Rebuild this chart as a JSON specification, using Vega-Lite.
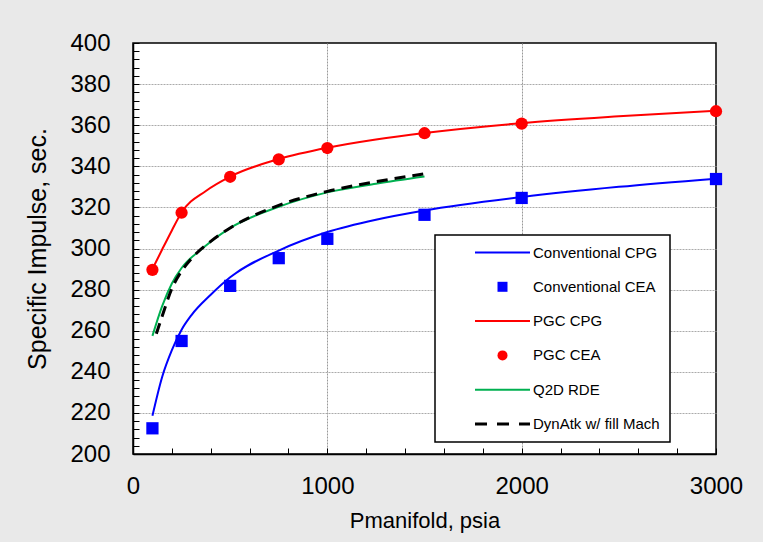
{
  "$schema": "https://vega.github.io/schema/vega-lite/v6.json",
  "width": 583,
  "height": 411,
  "autosize": {"type": "none"},
  "padding": {"left": 133, "top": 43, "right": 47, "bottom": 88},
  "background": "#e9e9e9",
  "config": {
    "font": "Liberation Sans",
    "view": {"fill": "white", "stroke": "black", "strokeWidth": 1.5}
  },
  "data": {
    "values": [
      {"series": "Conventional CPG", "p": 100, "isp": 218.6},
      {"series": "Conventional CPG", "p": 150, "isp": 237.5},
      {"series": "Conventional CPG", "p": 200, "isp": 250.5},
      {"series": "Conventional CPG", "p": 250, "isp": 260.5},
      {"series": "Conventional CPG", "p": 300, "isp": 267.5},
      {"series": "Conventional CPG", "p": 400, "isp": 277.5},
      {"series": "Conventional CPG", "p": 500, "isp": 286},
      {"series": "Conventional CPG", "p": 750, "isp": 299},
      {"series": "Conventional CPG", "p": 1000, "isp": 308},
      {"series": "Conventional CPG", "p": 1250, "isp": 314},
      {"series": "Conventional CPG", "p": 1500, "isp": 318.5},
      {"series": "Conventional CPG", "p": 2000, "isp": 325},
      {"series": "Conventional CPG", "p": 2500, "isp": 330},
      {"series": "Conventional CPG", "p": 3000, "isp": 334},
      {"series": "Conventional CEA", "p": 100, "isp": 212.5},
      {"series": "Conventional CEA", "p": 250, "isp": 255},
      {"series": "Conventional CEA", "p": 500, "isp": 281.8},
      {"series": "Conventional CEA", "p": 750, "isp": 295.3},
      {"series": "Conventional CEA", "p": 1000, "isp": 304.7},
      {"series": "Conventional CEA", "p": 1500, "isp": 316.4},
      {"series": "Conventional CEA", "p": 2000, "isp": 324.6},
      {"series": "Conventional CEA", "p": 3000, "isp": 333.8},
      {"series": "PGC CPG", "p": 100, "isp": 290},
      {"series": "PGC CPG", "p": 150, "isp": 299.5},
      {"series": "PGC CPG", "p": 200, "isp": 308.8},
      {"series": "PGC CPG", "p": 250, "isp": 317.5},
      {"series": "PGC CPG", "p": 375, "isp": 328},
      {"series": "PGC CPG", "p": 500, "isp": 335},
      {"series": "PGC CPG", "p": 750, "isp": 343.5},
      {"series": "PGC CPG", "p": 1000, "isp": 349},
      {"series": "PGC CPG", "p": 1250, "isp": 353},
      {"series": "PGC CPG", "p": 1500, "isp": 356.2},
      {"series": "PGC CPG", "p": 2000, "isp": 361},
      {"series": "PGC CPG", "p": 2500, "isp": 364.3},
      {"series": "PGC CPG", "p": 3000, "isp": 367},
      {"series": "PGC CEA", "p": 100, "isp": 289.6},
      {"series": "PGC CEA", "p": 250, "isp": 317.4},
      {"series": "PGC CEA", "p": 500, "isp": 334.9},
      {"series": "PGC CEA", "p": 750, "isp": 343.4},
      {"series": "PGC CEA", "p": 1000, "isp": 348.9},
      {"series": "PGC CEA", "p": 1500, "isp": 356.1},
      {"series": "PGC CEA", "p": 2000, "isp": 360.8},
      {"series": "PGC CEA", "p": 3000, "isp": 366.8},
      {"series": "Q2D RDE", "p": 100, "isp": 257.5},
      {"series": "Q2D RDE", "p": 150, "isp": 272},
      {"series": "Q2D RDE", "p": 200, "isp": 283},
      {"series": "Q2D RDE", "p": 250, "isp": 290.5},
      {"series": "Q2D RDE", "p": 350, "isp": 299.5},
      {"series": "Q2D RDE", "p": 500, "isp": 310},
      {"series": "Q2D RDE", "p": 750, "isp": 320.3},
      {"series": "Q2D RDE", "p": 1000, "isp": 327.3},
      {"series": "Q2D RDE", "p": 1250, "isp": 331.5},
      {"series": "Q2D RDE", "p": 1500, "isp": 335},
      {"series": "DynAtk w/ fill Mach", "p": 120, "isp": 258.5},
      {"series": "DynAtk w/ fill Mach", "p": 150, "isp": 267},
      {"series": "DynAtk w/ fill Mach", "p": 200, "isp": 280.5},
      {"series": "DynAtk w/ fill Mach", "p": 250, "isp": 289},
      {"series": "DynAtk w/ fill Mach", "p": 300, "isp": 295},
      {"series": "DynAtk w/ fill Mach", "p": 400, "isp": 303.5},
      {"series": "DynAtk w/ fill Mach", "p": 500, "isp": 310},
      {"series": "DynAtk w/ fill Mach", "p": 750, "isp": 321},
      {"series": "DynAtk w/ fill Mach", "p": 1000, "isp": 327.8},
      {"series": "DynAtk w/ fill Mach", "p": 1250, "isp": 332.5},
      {"series": "DynAtk w/ fill Mach", "p": 1500, "isp": 336.3}
    ]
  },
  "layer": [
    {
      "transform": [{"filter": {"field": "series", "oneOf": ["Conventional CPG", "PGC CPG", "Q2D RDE"]}}],
      "mark": {"type": "line", "strokeWidth": 2, "interpolate": "monotone"},
      "encoding": {
        "x": {
          "field": "p", "type": "quantitative",
          "scale": {"domain": [0, 3000], "nice": false},
          "axis": {
            "title": "Pmanifold, psia",
            "values": [0, 200, 400, 600, 800, 1000, 1200, 1400, 1600, 1800, 2000, 2200, 2400, 2600, 2800, 3000],
            "tickCount": 200,
            "format": "d",
            "labelExpr": "datum.value % 1000 === 0 ? datum.label : ''",
            "labelFlush": false,
            "labelOverlap": false,
            "labelFontSize": 24,
            "labelColor": "black",
            "labelPadding": 26,
            "tickSize": -6,
            "tickColor": "black",
            "tickWidth": 1,
            "domainColor": "black",
            "domainWidth": 1.5,
            "grid": true,
            "gridColor": "#999999",
            "gridDash": [2, 1],
            "gridWidth": 1,
            "gridOpacity": {"condition": {"test": "datum.value === 1000 || datum.value === 2000", "value": 1}, "value": 0},
            "titleFontSize": 22,
            "titleFontWeight": "normal",
            "titleColor": "black",
            "titlePadding": 12
          }
        },
        "y": {
          "field": "isp", "type": "quantitative",
          "scale": {"domain": [200, 400], "nice": false},
          "axis": {
            "title": "Specific Impulse, sec.",
            "values": [200, 204, 208, 212, 216, 220, 224, 228, 232, 236, 240, 244, 248, 252, 256, 260, 264, 268, 272, 276, 280, 284, 288, 292, 296, 300, 304, 308, 312, 316, 320, 324, 328, 332, 336, 340, 344, 348, 352, 356, 360, 364, 368, 372, 376, 380, 384, 388, 392, 396, 400],
            "tickCount": 200,
            "format": "d",
            "labelExpr": "datum.value % 20 === 0 ? datum.label : ''",
            "labelFlush": false,
            "labelOverlap": false,
            "labelFontSize": 24,
            "labelColor": "black",
            "labelPadding": 29,
            "tickSize": -6,
            "tickColor": "black",
            "tickWidth": 1,
            "domainColor": "black",
            "domainWidth": 1.5,
            "grid": true,
            "gridColor": "#aaaaaa",
            "gridDash": [2, 1],
            "gridWidth": 1,
            "gridOpacity": {"condition": {"test": "datum.value % 20 === 0 && datum.value > 200 && datum.value < 400", "value": 1}, "value": 0},
            "titleFontSize": 25,
            "titleFontWeight": "normal",
            "titleColor": "black",
            "titlePadding": 19
          }
        },
        "color": {
          "field": "series", "type": "nominal",
          "scale": {
            "domain": ["Conventional CPG", "Conventional CEA", "PGC CPG", "PGC CEA", "Q2D RDE", "DynAtk w/ fill Mach"],
            "range": ["#0000ff", "#0000ff", "#ff0000", "#ff0000", "#00b050", "#000000"]
          },
          "legend": {
            "title": null,
            "orient": "none",
            "legendX": 302,
            "legendY": 192,
            "fillColor": "white",
            "strokeColor": "black",
            "padding": 10,
            "rowPadding": 18.3,
            "labelFontSize": 15,
            "labelColor": "black",
            "labelLimit": 400,
            "labelExpr": "datum.label + '\u00a0\u00a0\u00a0\u00a0\u00a0'",
            "symbolSize": 100,
            "symbolOffset": 50,
            "labelOffset": 23,
            "encode": {
              "legend": {"update": {"strokeWidth": {"value": 1.5}}},
              "symbols": {
                "update": {
                  "shape": {"signal": "datum.value === 'Conventional CEA' ? 'square' : datum.value === 'PGC CEA' ? 'circle' : 'M-5.5,0H5.5'"},
                  "fill": {"signal": "datum.value === 'Conventional CEA' ? '#0000ff' : datum.value === 'PGC CEA' ? '#ff0000' : 'transparent'"},
                  "stroke": {"signal": "indexof(['Conventional CPG','Conventional CEA'], datum.value) >= 0 ? '#0000ff' : indexof(['PGC CPG','PGC CEA'], datum.value) >= 0 ? '#ff0000' : datum.value === 'Q2D RDE' ? '#00b050' : '#000000'"},
                  "strokeWidth": {"signal": "datum.value === 'DynAtk w/ fill Mach' ? 3 : (datum.value === 'Conventional CEA' || datum.value === 'PGC CEA') ? 0 : 2"},
                  "strokeDash": {"signal": "datum.value === 'DynAtk w/ fill Mach' ? [12, 10] : [1, 0]"},
                  "size": {"value": 100},
                  "opacity": {"value": 1}
                }
              }
            }
          }
        }
      }
    },
    {
      "transform": [{"filter": {"field": "series", "equal": "DynAtk w/ fill Mach"}}],
      "mark": {"type": "line", "strokeWidth": 3, "strokeDash": [11, 7], "interpolate": "monotone"},
      "encoding": {
        "x": {"field": "p", "type": "quantitative"},
        "y": {"field": "isp", "type": "quantitative"},
        "color": {"field": "series", "type": "nominal"}
      }
    },
    {
      "transform": [{"filter": {"field": "series", "oneOf": ["Conventional CEA", "PGC CEA"]}}],
      "mark": {"type": "point", "filled": true, "opacity": 1, "size": 150},
      "encoding": {
        "x": {"field": "p", "type": "quantitative"},
        "y": {"field": "isp", "type": "quantitative"},
        "color": {"field": "series", "type": "nominal"},
        "shape": {
          "field": "series", "type": "nominal",
          "scale": {"domain": ["Conventional CEA", "PGC CEA"], "range": ["square", "circle"]},
          "legend": null
        }
      }
    }
  ]
}
